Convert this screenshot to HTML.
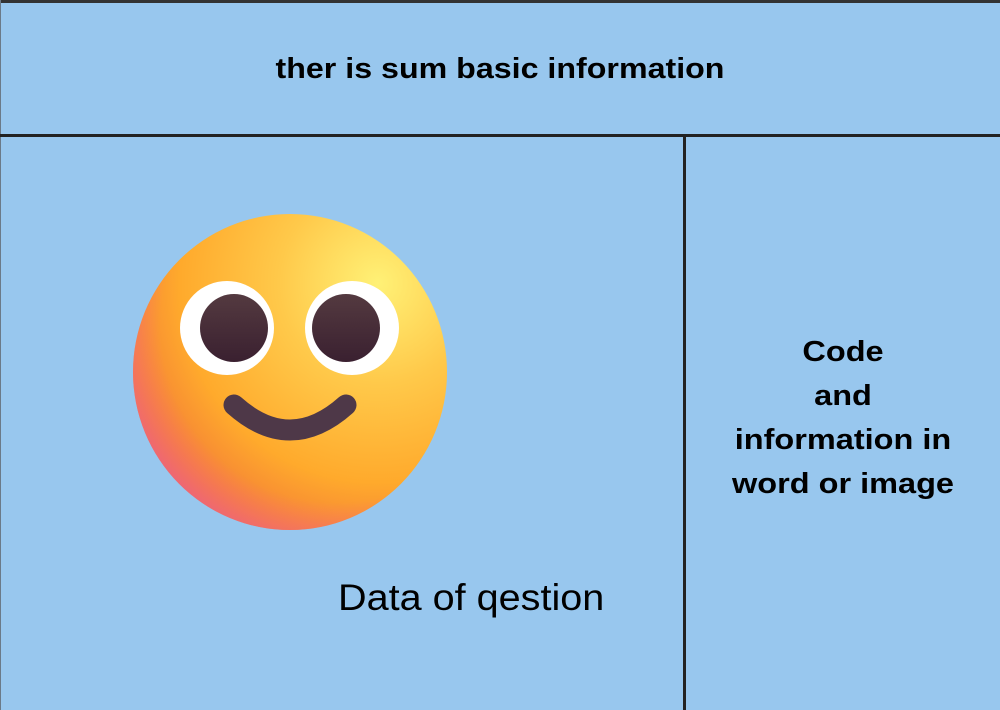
<!DOCTYPE html>
<html><head><meta charset="utf-8"><style>
html,body{margin:0;padding:0}
body{width:1000px;height:710px;position:relative;overflow:hidden;background:#98c7ee;font-family:"Liberation Sans",sans-serif}
.top{position:absolute;left:0;top:0;width:1000px;height:3px;background:#333}
.left{position:absolute;left:0;top:0;width:1px;height:710px;background:#6b7a88}
.h{position:absolute;left:0;top:134px;width:1000px;height:3px;background:#222}
.v{position:absolute;left:683px;top:134px;width:3px;height:576px;background:#222}
.t1{position:absolute;left:0;width:1000px;top:53px;text-align:center;font-weight:bold;font-size:29px;color:#000;transform:scaleX(1.11);transform-origin:500px 0}
.t2{position:absolute;left:686px;width:314px;top:330px;text-align:center;font-weight:bold;font-size:29px;line-height:44px;color:#000;transform:scaleX(1.12);transform-origin:157px 0}
.t3{position:absolute;left:338px;top:577px;font-size:37px;color:#000;transform:scaleX(1.07);transform-origin:0 0;white-space:nowrap}
svg{position:absolute;left:0;top:0}
</style></head><body>
<div class="top"></div><div class="left"></div><div class="h"></div><div class="v"></div>
<div class="t1">ther is sum basic information</div>
<div class="t2">Code<br>and<br>information in<br>word or image</div>
<div class="t3">Data of qestion</div>
<svg width="1000" height="710">
<defs>
<radialGradient id="g1" cx="0.78" cy="0.22" r="0.9">
<stop offset="0" stop-color="#fff176"/><stop offset="0.35" stop-color="#ffc94a"/><stop offset="0.7" stop-color="#ffaa2c"/><stop offset="1" stop-color="#f0703a"/>
</radialGradient>
<radialGradient id="g2" cx="0.65" cy="0.35" r="0.75">
<stop offset="0.75" stop-color="#ff6a80" stop-opacity="0"/><stop offset="1" stop-color="#e8609a" stop-opacity="0.8"/>
</radialGradient>
<linearGradient id="p" x1="0" y1="0" x2="0" y2="1"><stop offset="0" stop-color="#543a40"/><stop offset="1" stop-color="#3a2030"/></linearGradient>
</defs>
<ellipse cx="290" cy="372" rx="157" ry="158" fill="url(#g1)"/>
<ellipse cx="290" cy="372" rx="157" ry="158" fill="url(#g2)"/>
<circle cx="227" cy="328" r="47" fill="#fff"/>
<circle cx="352" cy="328" r="47" fill="#fff"/>
<circle cx="234" cy="328" r="34" fill="url(#p)"/>
<circle cx="346" cy="328" r="34" fill="url(#p)"/>
<path d="M234 405 Q290 455 346 405" stroke="#4e3848" stroke-width="21" fill="none" stroke-linecap="round"/>
</svg>
</body></html>
